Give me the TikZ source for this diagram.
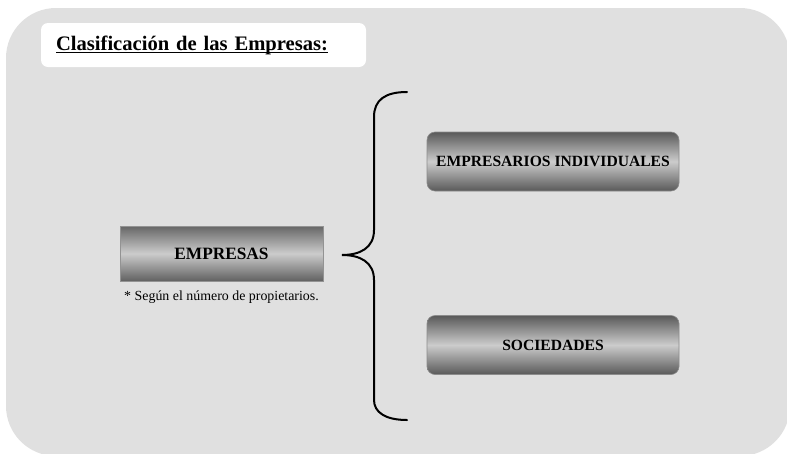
\documentclass[tikz,border=0pt]{standalone}
\usepackage{fontspec}
\setmainfont{Liberation Serif}
\newcommand\thickul[1]{\setbox0\hbox{#1}\rlap{\raisebox{-3pt}{\rule{\wd0}{1.3pt}}}\box0}
\begin{document}
\begin{tikzpicture}[x=1pt,y=-1pt,
  flatbox/.style={draw=gray!85,line width=0.6pt,top color=black!60,bottom color=black!62,middle color=black!20,
    minimum width=203pt,minimum height=55pt,inner sep=0pt,font=\fontsize{17.3}{20}\selectfont\bfseries},
  roundbox/.style={draw=gray!90,line width=0.6pt,rounded corners=8pt,top color=black!65,bottom color=black!65,middle color=black!20,
    minimum width=252pt,minimum height=59pt,inner sep=0pt,font=\fontsize{15.6}{18}\selectfont\bfseries},
  brace/.style={line width=2pt,line cap=round}]
\useasboundingbox (0,0) rectangle (787,453);
\fill[black!12,rounded corners=50pt] (6,8) rectangle (790,456);
\node[fill=white,rounded corners=7pt,minimum width=325pt,minimum height=44pt,text width=295pt,inner sep=0pt,align=left,
  font=\fontsize{20.6}{24}\selectfont\bfseries] (title) at (203.5,45) {\thickul{Clasificación de las Empresas:}};
\node[flatbox] (emp) at (221.5,253.5) {EMPRESAS};
\node[font=\fontsize{13.9}{16}\selectfont,anchor=north] (note) at (emp.south) [yshift=-6pt] {* Según el número de propietarios.};
\node[roundbox] (ind) at (553,161.5) {EMPRESARIOS INDIVIDUALES};
\node[roundbox] (soc) at (553,345) {SOCIEDADES};
\coordinate (btop) at (407,92);
\coordinate (btip) at (342,255);
\coordinate (bbot) at (407,420);
\draw[brace] (btop) .. controls (385,92) and (374,100) .. (374,117) -- (374,230)
  .. controls (374,248) and (360,255) .. (btip)
  .. controls (360,255) and (374,262) .. (374,280) -- (374,400)
  .. controls (374,412) and (385,420) .. (bbot);
\end{tikzpicture}
\end{document}
